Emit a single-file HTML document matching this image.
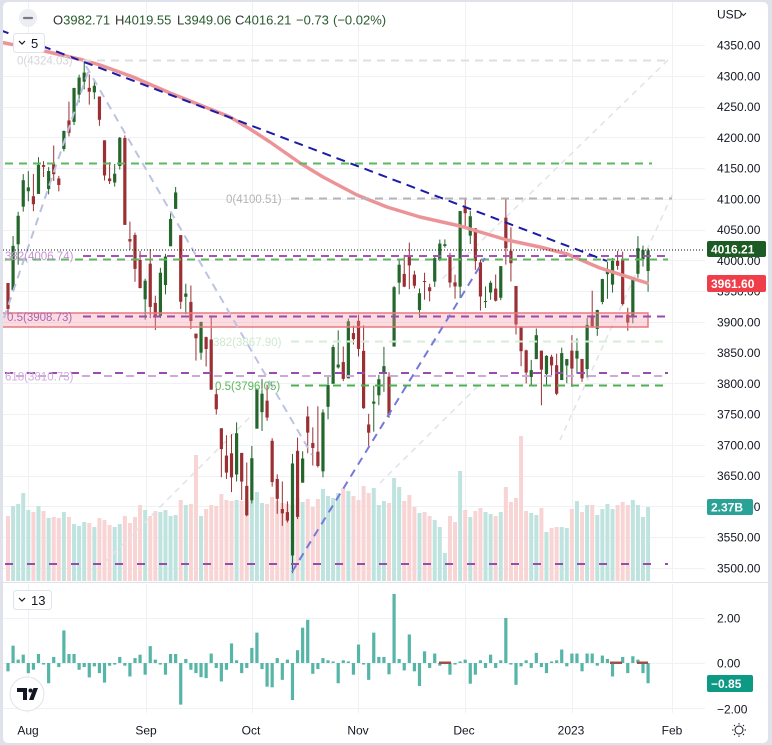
<!DOCTYPE html>
<html><head><meta charset="utf-8">
<style>
html,body{margin:0;padding:0;width:772px;height:745px;overflow:hidden;background:#dfe2ea;}
svg{position:absolute;left:0;top:0;font-family:"Liberation Sans",Arial,sans-serif;}
</style></head><body>
<svg id="c" width="772" height="745" viewBox="0 0 772 745" xmlns="http://www.w3.org/2000/svg">
<defs>
<clipPath id="mp"><rect x="3" y="2" width="702" height="580"/></clipPath>
<clipPath id="lp"><rect x="3" y="584" width="702" height="130"/></clipPath>
</defs>
<rect x="3" y="2" width="765" height="741" rx="5" fill="#fff"/>
<g id="grid" stroke="#eff1f5" stroke-width="1" shape-rendering="crispEdges"></g>
<line x1="3" y1="582.5" x2="768" y2="582.5" stroke="#e0e3eb" stroke-width="1"/>
<g id="vol" clip-path="url(#mp)"></g>
<g id="faint" clip-path="url(#mp)" stroke="#e2e3e8" stroke-width="1.5" stroke-dasharray="6,5" fill="none">
<line x1="668" y1="60" x2="440" y2="281"/>
<line x1="672" y1="195" x2="560" y2="440"/>
<line x1="105" y1="562" x2="250" y2="417"/>
<line x1="380" y1="483" x2="478" y2="386"/>
</g>
<g id="candles" clip-path="url(#mp)"></g>
<g clip-path="url(#mp)" fill="none">
<polyline id="ma" stroke="#eb9497" stroke-width="3.5" stroke-linejoin="round" stroke-linecap="round"
points="0,42 40,50 83,60 100,65 133,77 170,93 200,105 230,117 250,129 270,142 300,163 323,177 357,195 387,207 420,217 460,226 507,240 540,247 567,254 600,268 647,283"/>
<!-- support rectangle -->
<rect x="1" y="313" width="647" height="14" fill="rgba(245,150,160,0.33)" stroke="#e8797e" stroke-width="1.5"/>
<!-- fib 1 -->
<line x1="83" y1="60.5" x2="668" y2="60.5" stroke="#dedfe3" stroke-width="2" stroke-dasharray="8,6"/>
<line x1="83" y1="256" x2="668" y2="256" stroke="#a752b6" stroke-width="2" stroke-dasharray="8,6"/>
<line x1="83" y1="316.5" x2="668" y2="316.5" stroke="#9a4bae" stroke-width="2" stroke-dasharray="8,6"/>
<line x1="5" y1="373" x2="668" y2="373" stroke="#9a4bae" stroke-width="2" stroke-dasharray="8,14"/>
<line x1="16" y1="376" x2="668" y2="376" stroke="#cda9da" stroke-width="2" stroke-dasharray="8,14"/>
<line x1="5" y1="564" x2="668" y2="564" stroke="#9a4bae" stroke-width="2" stroke-dasharray="8,14"/>
<!-- green lines -->
<line x1="5" y1="163.5" x2="652" y2="163.5" stroke="#5cb85c" stroke-width="2" stroke-dasharray="8,6"/>
<line x1="5" y1="259.5" x2="668" y2="259.5" stroke="#5cb85c" stroke-width="2" stroke-dasharray="8,6"/>
<!-- fib 2 -->
<line x1="291" y1="198.5" x2="672" y2="198.5" stroke="#b4b4b6" stroke-width="2" stroke-dasharray="8,6"/>
<line x1="291" y1="341.5" x2="668" y2="341.5" stroke="#d6edd6" stroke-width="2" stroke-dasharray="8,6"/>
<line x1="291" y1="385.5" x2="668" y2="385.5" stroke="#4caf50" stroke-width="2" stroke-dasharray="8,6"/>
<!-- trend lines -->
<line x1="4" y1="318" x2="88" y2="72" stroke="#b9c0e0" stroke-width="2" stroke-dasharray="8,6"/>
<line x1="86" y1="66" x2="312" y2="455" stroke="#bcc3e3" stroke-width="2" stroke-dasharray="8,6"/>
<line x1="292" y1="572" x2="485" y2="258" stroke="#7579dc" stroke-width="2" stroke-dasharray="8,6"/>
<line x1="0" y1="30" x2="607" y2="261" stroke="#1c1ca8" stroke-width="2" stroke-dasharray="9,6"/>
<!-- last price dotted -->
<line x1="3" y1="250" x2="706" y2="250" stroke="#131722" stroke-width="1" stroke-dasharray="1,2"/>
</g>
<g font-size="11.5">
<text x="17" y="64.5" fill="#d4d5dc">0(4324.03)</text>
<text x="5" y="260" fill="#c693d2">382(4006.74)</text>
<text x="7" y="321" fill="#a865b8">0.5(3908.73)</text>
<text x="5" y="380.5" fill="#d0abdd">618(3810.73)</text>
<text x="226" y="203" fill="#b3b3b3">0(4100.51)</text>
<text x="213" y="346" fill="#cfe8cf">382(3867.90)</text>
<text x="215" y="390" fill="#5cb85c">0.5(3796.05)</text>
</g>
<g id="hist" clip-path="url(#lp)"></g>
<g id="axis" font-size="12" fill="#131722"></g>
<!-- price tags -->
<rect x="707" y="241" width="59" height="16" rx="2" fill="#1d5b24"/>
<text x="711" y="253.5" font-size="12" font-weight="bold" fill="#fff">4016.21</text>
<rect x="707" y="275" width="59" height="17" rx="2" fill="#ef3e4a"/>
<text x="711" y="288" font-size="12" font-weight="bold" fill="#fff">3961.60</text>
<rect x="707" y="499" width="46" height="16" rx="2" fill="#2aa396"/>
<text x="711" y="511.5" font-size="12" font-weight="bold" fill="#fff">2.37B</text>
<rect x="707" y="675" width="46" height="17" rx="2" fill="#0e9985"/>
<text x="711" y="688" font-size="12" font-weight="bold" fill="#fff">−0.85</text>
<!-- USD -->
<text x="717" y="18.5" font-size="12" fill="#131722">USD</text>
<polyline points="741,13 743.5,15.5 746,13" fill="none" stroke="#131722" stroke-width="1"/>
<!-- header -->
<circle cx="28" cy="18" r="9" fill="#eceef3"/>
<line x1="24" y1="18" x2="32" y2="18" stroke="#787b86" stroke-width="2.2" stroke-linecap="round"/>
<g font-size="13" fill="#2a5a2e">
<text x="53" y="24.5"><tspan fill="#2f3430">O</tspan>3982.71</text>
<text x="115" y="24.5"><tspan fill="#2f3430">H</tspan>4019.55</text>
<text x="177" y="24.5"><tspan fill="#2f3430">L</tspan>3949.06</text>
<text x="235" y="24.5"><tspan fill="#2f3430">C</tspan>4016.21</text>
<text x="296" y="24.5">−0.73</text>
<text x="333" y="24.5">(−0.02%)</text>
</g>
<rect x="13.5" y="33.5" width="31" height="19" rx="3" fill="#fff" stroke="#e0e3eb"/>
<polyline points="19,41 22,44 25,41" fill="none" stroke="#131722" stroke-width="1.2"/>
<text x="31" y="48" font-size="13" fill="#131722">5</text>
<rect x="13.5" y="590.5" width="38" height="19" rx="3" fill="#fff" stroke="#e0e3eb"/>
<polyline points="19,598 22,601 25,598" fill="none" stroke="#131722" stroke-width="1.2"/>
<text x="31" y="605" font-size="13" fill="#131722">13</text>
<!-- logo -->
<circle cx="27" cy="694" r="17" fill="#fff" stroke="#e0e3eb"/>
<path d="M17 688 h10 v12 h-4 v-8 h-6 z" fill="#131722"/>
<circle cx="30.5" cy="690.5" r="2" fill="#131722"/>
<polygon points="29,700 33.5,700 38,688 33.5,688" fill="#131722"/>
<!-- sun -->
<g stroke="#131722" stroke-width="1" fill="none">
<circle cx="739" cy="730" r="4"/>
<line x1="739" y1="723" x2="739" y2="724.5"/><line x1="739" y1="735.5" x2="739" y2="737"/>
<line x1="732" y1="730" x2="733.5" y2="730"/><line x1="744.5" y1="730" x2="746" y2="730"/>
<line x1="734" y1="725" x2="735" y2="726"/><line x1="743" y1="734" x2="744" y2="735"/>
<line x1="744" y1="725" x2="743" y2="726"/><line x1="735" y1="734" x2="734" y2="735"/>
</g>
</svg>
<script>
const NS="http://www.w3.org/2000/svg";
function el(p,t,a,txt){const e=document.createElementNS(NS,t);for(const k in a)e.setAttribute(k,a[k]);if(txt!=null)e.textContent=txt;p.appendChild(e);return e;}
const P=p=>45+(4350-p)*0.615294;
const X=i=>8+i*5.08;
const D=[
[3963.22,3963.22,3910.74,3921.05],[3951.43,4039.56,3951.43,4023.61],[4026.13,4078.95,3992.97,4072.43],[4087.33,4140.15,4079.22,4130.29],
[4112.38,4144.95,4096.02,4118.63],[4104.21,4140.47,4079.81,4091.19],[4107.96,4167.66,4107.96,4155.17],[4154.85,4161.29,4135.42,4151.94],
[4115.87,4151.58,4107.31,4145.19],[4155.93,4186.62,4128.97,4140.06],[4133.11,4137.30,4112.09,4122.47],[4181.02,4211.03,4177.26,4210.24],
[4227.40,4257.91,4201.41,4207.27],[4225.02,4280.47,4219.78,4280.15],[4269.37,4301.79,4256.90,4297.14],[4290.46,4325.28,4277.77,4305.20],
[4280.40,4302.18,4253.08,4274.04],[4273.13,4292.53,4261.98,4283.74],[4266.31,4266.31,4218.70,4228.48],[4195.08,4195.08,4129.86,4137.99],
[4133.09,4159.77,4124.03,4128.73],[4126.55,4156.56,4119.97,4140.77],[4153.26,4200.54,4147.59,4199.12],[4198.74,4203.04,4057.66,4057.66],
[4034.58,4062.99,4017.42,4030.61],[4041.25,4044.98,3965.21,3986.16],[4000.67,4015.37,3954.53,3955.00],
[3936.73,3970.23,3903.65,3966.85],[3994.66,4018.43,3906.21,3924.26],[3930.89,3942.55,3886.75,3908.19],[3909.43,3987.89,3906.03,3979.87],
[3959.94,4010.50,3944.81,4006.18],[4022.94,4076.81,4022.94,4067.36],[4083.67,4119.28,4083.67,4110.41],[4041.02,4041.02,3921.01,3932.69],
[3940.73,3961.94,3912.32,3946.01],[3932.41,3959.14,3888.28,3901.35],[3880.95,3880.95,3837.08,3873.33],[3849.91,3900.45,3838.50,3899.89],
[3875.23,3876.01,3827.54,3855.93],[3871.40,3907.07,3789.49,3789.93],[3782.36,3790.78,3749.45,3757.99],[3727.14,3727.14,3647.47,3693.23],
[3682.72,3715.67,3644.76,3655.04],[3686.44,3717.53,3623.29,3647.29],[3651.94,3736.74,3640.61,3719.04],[3687.01,3687.01,3610.40,3640.47],
[3633.48,3671.44,3584.13,3585.62],
[3609.78,3698.35,3604.93,3678.43],[3726.46,3791.92,3726.46,3790.93],[3753.25,3806.91,3722.66,3783.28],[3771.97,3797.93,3739.22,3744.52],
[3706.74,3710.98,3632.26,3639.66],[3644.79,3652.17,3588.10,3612.39],[3595.86,3640.66,3568.45,3588.84],[3590.83,3608.34,3573.86,3577.03],
[3520.37,3685.41,3491.58,3669.91],[3690.41,3712.00,3579.68,3583.07],[3638.65,3689.73,3638.65,3677.95],[3746.26,3762.79,3686.53,3719.98],
[3703.11,3728.58,3666.51,3695.16],[3689.05,3762.79,3663.28,3665.78],[3657.10,3757.89,3647.42,3752.75],[3762.01,3810.74,3741.65,3797.34],
[3799.44,3862.79,3799.44,3859.11],[3825.97,3886.15,3824.07,3830.60],[3834.69,3859.95,3803.79,3807.30],[3808.26,3905.42,3808.26,3901.06],
[3881.85,3893.73,3863.18,3871.98],
[3901.79,3911.79,3843.80,3856.10],[3852.90,3894.44,3758.68,3759.69],[3733.25,3750.59,3698.15,3719.89],[3766.98,3796.34,3721.56,3770.55],
[3780.71,3813.95,3764.70,3806.80],[3817.02,3859.40,3786.28,3828.11],[3810.94,3818.20,3744.22,3748.57],[3859.89,3958.33,3859.89,3956.37],
[3963.72,4001.48,3944.82,3992.93],[3977.97,4008.97,3956.40,3957.25],[4006.41,4028.84,3953.17,3991.73],[3976.82,3983.09,3954.34,3958.79],
[3919.26,3954.33,3906.54,3946.56],[3966.39,3979.89,3935.98,3965.34],[3956.23,3962.00,3933.34,3949.94],[3965.51,4005.88,3956.88,4003.58],
[4000.30,4033.78,3998.66,4027.26],[4023.34,4034.02,4020.76,4026.12],[4005.36,4012.27,3955.77,3963.94],[3964.19,3976.77,3937.65,3957.63],
[3957.18,4080.11,3938.58,4080.11],
[4087.14,4100.51,4050.87,4076.57],[4040.17,4080.48,4026.63,4071.70],[4052.02,4052.45,3984.49,3998.84],[3996.63,4001.51,3918.39,3941.26],
[3933.28,3957.57,3922.68,3933.92],[3947.79,3966.85,3935.83,3963.51],[3954.17,3977.02,3933.04,3934.38],[3939.29,3990.71,3935.30,3990.56],
[4069.38,4100.96,3993.03,4019.65],[4015.54,4053.76,3965.65,3995.32],[3958.37,3958.37,3879.45,3895.75],[3890.91,3890.91,3827.91,3852.36],
[3853.79,3854.86,3800.04,3817.66],[3810.47,3838.24,3795.62,3821.62],[3839.49,3889.28,3839.49,3878.44],[3853.26,3853.26,3764.49,3822.39],
[3815.11,3845.80,3797.01,3844.82],[3843.34,3846.65,3813.22,3829.25],[3829.56,3848.32,3780.78,3783.22],[3805.45,3858.19,3805.45,3849.28],
[3829.06,3839.85,3800.34,3839.50],
[3853.29,3878.46,3794.33,3824.14],[3840.36,3873.16,3815.77,3852.97],[3839.74,3839.74,3802.42,3808.10],[3823.37,3906.19,3809.56,3895.08],
[3910.82,3950.57,3890.42,3892.09],[3888.57,3919.83,3877.29,3919.25],[3932.35,3970.07,3928.54,3969.61],[3977.57,3997.76,3937.56,3983.17],
[3960.60,4003.95,3947.67,3999.09],[3999.28,4015.39,3984.57,3990.97],[4002.25,4014.16,3926.59,3928.86],[3911.84,3922.94,3885.54,3898.85],
[3909.04,3972.96,3897.86,3972.61],[3978.14,4039.31,3971.64,4019.81],[4001.74,4023.92,3989.79,4016.95],[3982.71,4019.55,3949.06,4016.22]
];
const VT=[516,506,504,493,510,512,506,511,518,517,518,512,517,524,526,522,523,527,518,520,525,527,524,516,523,517,505,510,516,511,512,510,516,515,500,505,504,455,516,509,505,506,494,500,501,500,501,500,501,492,503,504,497,501,503,504,505,498,502,499,507,499,489,496,498,493,488,491,496,500,486,493,488,505,501,503,478,487,501,495,507,513,512,516,520,527,553,516,522,471,510,517,511,508,512,514,516,512,487,502,498,436,511,513,515,508,532,528,527,527,528,509,501,512,505,505,515,509,504,509,505,502,505,500,505,517,507];
const H=[-0.37,0.77,0.15,0.37,-0.45,-0.3,0.4,-0.07,-0.9,0.27,-0.18,1.45,0.4,0.4,-0.3,-0.18,-0.64,-0.15,-0.45,-0.87,-0.12,-0.07,0.27,-0.12,-0.6,0.22,0.37,-0.52,0.75,0.15,-0.07,-0.52,0.4,0.4,-1.85,0.18,-0.3,-0.45,-0.63,-0.67,0.42,-0.22,-0.82,-0.3,0.87,0.12,-0.45,-0.22,0.67,1.35,-0.27,-1.05,-1.08,0.22,-0.75,0.15,-1.65,0.57,1.57,1.92,-0.48,-0.27,0.22,0.12,0.07,-0.9,0.12,0.07,-0.52,0.82,-0.07,-0.75,1.35,0.27,0.27,-0.5,3.07,0.18,-0.33,1.27,-0.37,-1.02,0.52,-0.22,0.42,-0.12,-0.05,-0.52,-0.07,0.07,0.15,-0.92,-0.52,0.12,-0.22,0.37,-0.22,0.12,2.0,-0.07,-0.97,-0.15,0.12,-0.22,0.45,-0.18,-0.45,0.07,0.12,0.6,-0.15,0.42,0.42,-0.37,0.42,0.42,-0.12,0.33,0.18,-0.6,0.05,0.27,-0.45,0.3,0.15,-0.45,-0.9];
const g=document.getElementById('grid');
for(let p=3500;p<=4350;p+=50){const y=Math.round(P(p))+0.5;el(g,'line',{x1:3,y1:y,x2:705,y2:y});}
const MX=[28,146,252,358,465,572,672];
MX.forEach(x=>{el(g,'line',{x1:x+0.5,y1:2,x2:x+0.5,y2:581});el(g,'line',{x1:x+0.5,y1:584,x2:x+0.5,y2:713});});
[618.5,663.5,708.5].forEach(y=>el(g,'line',{x1:3,y1:y,x2:705,y2:y}));
const vg=document.getElementById('vol');
const cg=document.getElementById('candles');
D.forEach((d,i)=>{
 const [o,h,l,c]=d;const up=c>=o;const x=X(i);
 el(vg,'rect',{x:x-2,y:VT[i],width:4,height:581-VT[i],fill:up?'#bfe3df':'#f8d4d4'});
 const col=up?'#24662b':'#9b2f33';
 el(cg,'line',{x1:x,y1:P(h),x2:x,y2:P(l),stroke:col,'stroke-width':1});
 const y1=Math.min(P(o),P(c)),y2=Math.max(P(o),P(c));
 el(cg,'rect',{x:x-1.6,y:y1,width:3.2,height:Math.max(1,y2-y1),fill:col});
});
const hg=document.getElementById('hist');
H.forEach((v,i)=>{const x=X(i);const hh=Math.max(1,Math.abs(v)*22.5);
 el(hg,'rect',{x:x-1.6,y:v>0?663-hh:663,width:3.2,height:hh,fill:'#56b5a7'});});
[[439,12],[610,12],[637,11]].forEach(a=>el(hg,'rect',{x:a[0],y:661.5,width:a[1],height:2.5,fill:'#a0504a'}));
const ax=document.getElementById('axis');
for(let p=3500;p<=4350;p+=50){el(ax,'text',{x:717,y:P(p)+4.5},p.toFixed(2));}
el(ax,'text',{x:717,y:622.5},'2.00');
el(ax,'text',{x:717,y:667.5},'0.00');
el(ax,'text',{x:717,y:713.5},'−2.00');
[['Aug',28],['Sep',146],['Oct',251],['Nov',358],['Dec',464],['2023',571],['Feb',672]].forEach(a=>el(ax,'text',{x:a[1],y:734.5,'text-anchor':'middle'},a[0]));
</script>
</body></html>
